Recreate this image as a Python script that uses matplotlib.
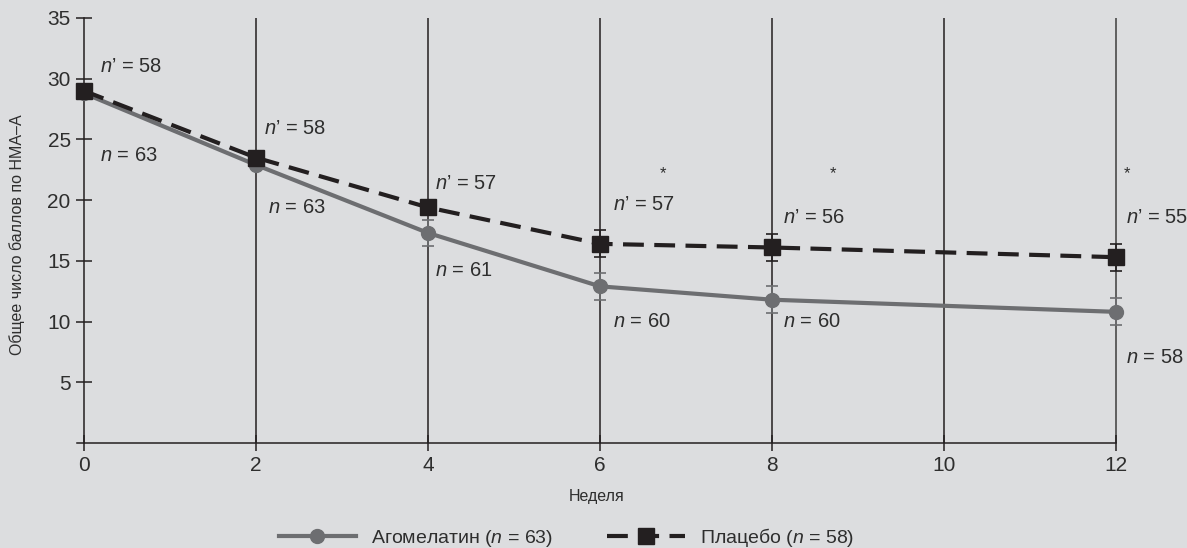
import matplotlib
matplotlib.use("Agg")
import matplotlib.pyplot as plt
from matplotlib.lines import Line2D
import numpy as np

# ---- data ----
weeks = [0, 2, 4, 6, 8, 12]
ago_mean = [28.8, 22.9, 17.3, 12.9, 11.8, 10.8]
ago_err = [0.0, 0.0, 1.1, 1.1, 1.1, 1.1]
pla_mean = [29.0, 23.5, 19.4, 16.4, 16.1, 15.3]
pla_err = [0.0, 0.0, 0.0, 1.1, 1.1, 1.1]
n_ago = ["63", "63", "61", "60", "60", "58"]
n_pla = ["58", "58", "57", "57", "56", "55"]
star_weeks = [6.73, 8.71, 12.13]
xticks = [0, 2, 4, 6, 8, 10, 12]
yticks = [5, 10, 15, 20, 25, 30, 35]
vline_weeks = [2, 4, 6, 8, 10, 12]
ylabel = "Общее число баллов по HMA–A"
xlabel = "Неделя"
leg_ago = "Агомелатин ($\\mathit{n}$ = 63)"
leg_pla = "Плацебо ($\\mathit{n}$ = 58)"

# label positions (data coords)
n_pla_pos = [(0.19, 31.0), (2.09, 25.9), (4.08, 21.4), (6.15, 19.6), (8.13, 18.6), (12.12, 18.6)]
n_ago_pos = [(0.19, 23.7), (2.14, 19.4), (4.08, 14.2), (6.15, 10.0), (8.13, 10.0), (12.12, 7.0)]

BG = "#dcdddf"
GRAY = "#6d6e71"
BLACK = "#231f20"
TXT = "#2e2e2e"

FONT = 'Liberation Sans'
plt.rcParams['font.family'] = [FONT, 'DejaVu Sans']
plt.rcParams['mathtext.fontset'] = 'custom'
plt.rcParams['mathtext.it'] = FONT + ':italic'
plt.rcParams['mathtext.rm'] = FONT

fig = plt.figure(figsize=(11.87, 5.48), dpi=100, facecolor=BG)
ax = fig.add_axes([0.0649, 0.1916, 0.9402 - 0.0649, 0.7756])
ax.set_facecolor(BG)

ax.vlines(vline_weeks[:-1], 0, 35, color=BLACK, lw=1.1, zorder=1, clip_on=False)
ax.vlines(vline_weeks[-1:], 0, 35, color="#555555", lw=1.3, zorder=1, clip_on=False)

c1 = ax.errorbar(weeks, ago_mean, yerr=ago_err, color=GRAY, lw=3, marker='o', ms=10,
                 elinewidth=1.2, capsize=4, capthick=1.2, zorder=3)
c2 = ax.errorbar(weeks, pla_mean, yerr=pla_err, color=BLACK, lw=3, marker='s', ms=11,
                 dashes=(5, 2.5), elinewidth=1.2, capsize=4, capthick=1.2, zorder=4)
for c in (c1, c2):
    for art in c.get_children():
        art.set_clip_on(False)

for (x, y), s in zip(n_pla_pos, n_pla):
    ax.text(x, y, "$\\mathit{n}$’ = " + s, fontsize=14.5, color=TXT, ha='left', va='center')
for (x, y), s in zip(n_ago_pos, n_ago):
    ax.text(x, y, "$\\mathit{n}$ = " + s, fontsize=14.5, color=TXT, ha='left', va='center')
for x in star_weeks:
    ax.text(x, 22.2, "*", fontsize=12, color=TXT, ha='center', va='center')

ax.set_xlim(-0.08, 12)
ax.set_ylim(0, 35)
ax.spines['left'].set_position(('data', 0))
ax.spines['top'].set_visible(False)
ax.spines['right'].set_visible(False)
ax.spines['left'].set_color(BLACK)
ax.spines['bottom'].set_color(BLACK)
ax.spines['left'].set_linewidth(1.1)
ax.spines['bottom'].set_linewidth(1.1)
ax.set_xticks(xticks)
ax.set_yticks(yticks)
ax.tick_params(direction='inout', length=11, width=1.1, colors=BLACK,
               labelsize=15, labelcolor=TXT)
ax.tick_params(axis='x', pad=4)
ax.tick_params(axis='y', pad=4)

ax.set_ylabel(ylabel, fontsize=11.5, color=TXT)
ax.yaxis.set_label_coords(-0.05, 0.49)
ax.set_xlabel(xlabel, fontsize=11.5, color=TXT, labelpad=10)

h1 = Line2D([], [], color=GRAY, lw=3, marker='o', ms=10)
h2 = Line2D([], [], color=BLACK, lw=3, marker='s', ms=11, dashes=(5, 2.5))
fig.legend([h1, h2], [leg_ago, leg_pla], loc='center', bbox_to_anchor=(0.477, 0.02),
           ncol=2, frameon=False, fontsize=14, handlelength=4, handletextpad=0.75,
           columnspacing=2.8, labelcolor=TXT)

fig.savefig("out.png", dpi=100, facecolor=BG)
